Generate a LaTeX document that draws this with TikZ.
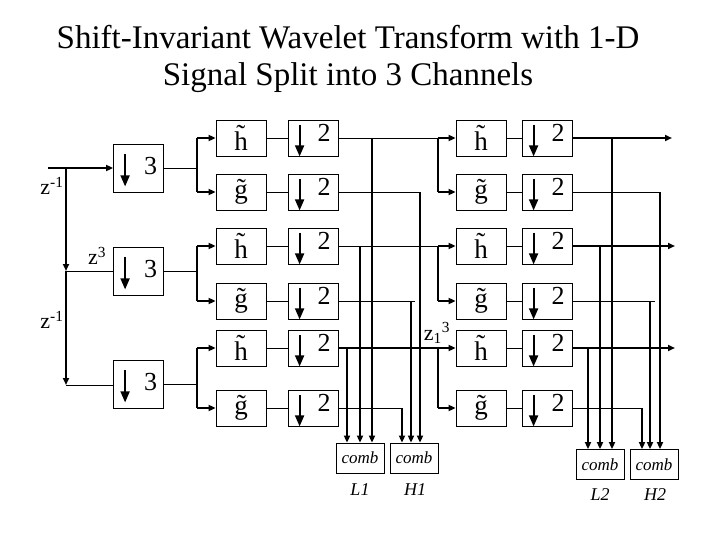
\documentclass[tikz,border=0pt]{standalone}
\usepackage{fontspec}
\setmainfont{Liberation Serif}
\usetikzlibrary{arrows.meta}
\begin{document}
\begin{tikzpicture}[x=1pt,y=-1pt,
  box/.style={draw,line width=0.8pt,minimum width=50pt,minimum height=36pt,inner sep=0pt},
  flt/.style={box,font=\fontsize{27}{27}\selectfont},
  cmb/.style={draw,line width=0.8pt,minimum width=48pt,minimum height=30pt,inner sep=0pt,font=\itshape\fontsize{17}{17}\selectfont},
  lbl/.style={font=\fontsize{26}{26}\selectfont,inner sep=0pt},
  zl/.style={font=\fontsize{22}{22}\selectfont,inner sep=0pt},
  ilbl/.style={font=\itshape\fontsize{18}{18}\selectfont,inner sep=0pt},
  thin/.style={line width=0.8pt},
  thk/.style={line width=1.8pt},
  arr/.style={-{Triangle[width=6pt,length=7pt]}},
  darr/.style={line width=1.8pt,-{Triangle[width=9pt,length=11pt]}}]
\useasboundingbox (0,0) rectangle (720,540);
\node[font=\fontsize{33}{33}\selectfont] (t1) at (348,37) {Shift-Invariant Wavelet Transform with 1-D};
\node[font=\fontsize{33}{33}\selectfont] (t2) at (348,78) {Signal Split into 3 Channels};
% downsample by 3 boxes
\foreach \n/\y in {1/168,2/271,3/384}{
  \node[box,minimum height=48pt] (s\n) at (138.5,\y) {};
  \draw[darr] ([shift={(12,10)}]s\n.north west) -- ([shift={(12,-6)}]s\n.south west);
  \node[lbl] at ([shift={(12,-2)}]s\n.center) {3};
}
\coordinate (in) at (48,168);
\coordinate (v1) at (66,168);
\coordinate (v2) at (66,271);
\coordinate (v3) at (66,385);
\draw[thk] (in) -- (v1);
\draw[thk,arr] (v1) -- (s1.west);
\draw[thk,arr] (v1) -- (v2);
\draw[thk,arr] (v2) -- (v3);
\draw[thin] (v2) -- (s2.west);
\draw[thin] (v3) -- (s3.west |- v3);
\node[zl] at (52,186) {z\textsuperscript{-1}};
\node[zl] at (97,256) {z\textsuperscript{3}};
\node[zl] at (52,320) {z\textsuperscript{-1}};
% filter banks
\foreach \r/\y/\f in {1/138/h,2/192/g,3/246/h,4/301/g,5/348/h,6/408/g}{
  \node[flt] (a\r) at (241,\y) {\~\f};
  \node[box] (d\r) at (313,\y) {};
  \node[flt] (b\r) at (481,\y) {\~\f};
  \node[box] (e\r) at (547,\y) {};
  \foreach \q in {d\r,e\r}{
    \draw[darr] ([shift={(12,5)}]\q.north west) -- ([xshift=12]\q.south west);
    \node[lbl] at ([shift={(11,-5)}]\q.center) {2};
  }
  \draw[thin] (a\r.east) -- (d\r.west);
  \draw[thin] (b\r.east) -- (e\r.west);
}
\node[zl] at (437,333) {z\textsubscript{1}\textsuperscript{3}};
% split after downsample-by-3
\foreach \n/\h/\g in {1/1/2,2/3/4,3/5/6}{
  \coordinate (p\n) at (197,0 |- s\n.east);
  \draw[thin] (s\n.east) -- (p\n);
  \draw[thk] (p\n |- a\h.west) -- (p\n |- a\g.west);
  \draw[thk,arr] (p\n |- a\h.west) -- (a\h.west);
  \draw[thk,arr] (p\n |- a\g.west) -- (a\g.west);
}
% split before second stage
\foreach \h/\g in {1/2,3/4,5/6}{
  \draw[thk] (438,0 |- b\h.west) -- (438,0 |- b\g.west);
  \draw[thk,arr] (438,0 |- b\g.west) -- (b\g.west);
}
\draw[thin] (d1.east) -- (438,138);
\draw[thk,arr] (438,138) -- (b1.west);
\draw[thin] (d3.east) -- (438,246);
\draw[thk,arr] (438,246) -- (b3.west);
\draw[thk,arr] (d5.east) -- (b5.west);
% comb boxes
\node[cmb] (L1) at (360,458) {comb};
\node[cmb] (H1) at (414,458) {comb};
\node[cmb] (L2) at (600,464.5) {comb};
\node[cmb] (H2) at (654,464.5) {comb};
\node[ilbl] at (360,490) {L1};
\node[ilbl] at (415,490) {H1};
\node[ilbl] at (600,495) {L2};
\node[ilbl] at (655,495) {H2};
% taps to L1
\foreach \r/\x in {1/372,3/360,5/347}{
  \draw[thk,arr] (\x,0 |- d\r.east) -- (\x,0 |- L1.north);
}
% to H1
\draw[thin] (d2.east) -- (420,192);
\draw[thk,arr] (420,192) -- (420,0 |- H1.north);
\draw[thin] (d4.east) -- (415,301);
\draw[thk,arr] (411,301) -- (411,0 |- H1.north);
\draw[thin] (d6.east) -- (402,408);
\draw[thk,arr] (402,408) -- (402,0 |- H1.north);
% second stage outputs
\coordinate (o1) at (672,138);
\coordinate (o3) at (675,246);
\coordinate (o5) at (675,348);
\foreach \r in {1,3,5}{\draw[thk,arr] (e\r.east) -- (o\r);}
\foreach \r/\x in {1/612,3/600,5/588}{
  \draw[thk,arr] (\x,0 |- e\r.east) -- (\x,0 |- L2.north);
}
\draw[thin] (e2.east) -- (660,192);
\draw[thk,arr] (660,192) -- (660,0 |- H2.north);
\draw[thin] (e4.east) -- (655,301);
\draw[thk,arr] (650,301) -- (650,0 |- H2.north);
\draw[thin] (e6.east) -- (642,408);
\draw[thk,arr] (642,408) -- (642,0 |- H2.north);
\end{tikzpicture}
\end{document}
